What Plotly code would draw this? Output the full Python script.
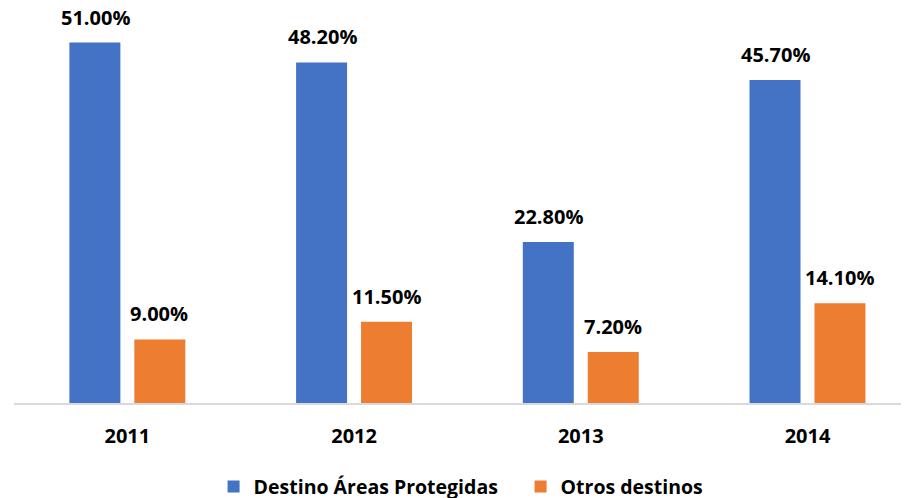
import plotly.graph_objects as go

years = ["2011", "2012", "2013", "2014"]
areas_protegidas = [51.0, 48.2, 22.8, 45.7]
otros_destinos = [9.0, 11.5, 7.2, 14.1]

BLUE = "#4472C4"
ORANGE = "#ED7D31"
FONT = "Open Sans"

fig = go.Figure()

fig.add_trace(go.Bar(
    x=years, y=areas_protegidas,
    name="Destino Áreas Protegidas",
    marker=dict(color=BLUE, line=dict(width=0)),
))
fig.add_trace(go.Bar(
    x=years, y=otros_destinos,
    name="Otros destinos",
    marker=dict(color=ORANGE, line=dict(width=0)),
))

# value labels above each bar
for series, shift in [(areas_protegidas, -32), (otros_destinos, 32)]:
    for i, v in enumerate(series):
        fig.add_annotation(
            x=i, y=v, xref="x", yref="y",
            text=f"<b>{v:.2f}%</b>",
            xshift=shift, yshift=10, yanchor="bottom",
            showarrow=False,
            font=dict(family=FONT, size=20, color="#000000"),
        )

fig.update_layout(
    width=909, height=498,
    margin=dict(l=6, r=0, t=0, b=103, autoexpand=False),
    plot_bgcolor="white",
    paper_bgcolor="white",
    barmode="group",
    bargap=0.427,
    bargroupgap=0.215,
    font=dict(family=FONT, color="#000000"),
    showlegend=True,
    legend=dict(
        orientation="h",
        x=0.221, xanchor="left",
        y=-0.212, yanchor="middle",
        font=dict(family=FONT, size=19.5, color="#000000", weight="bold"),
        entrywidth=262, entrywidthmode="pixels",
        itemsizing="constant",
    ),
    xaxis=dict(
        type="category",
        range=[-0.5, 3.483],
        showline=True, linecolor="#D9D9D9", linewidth=2,
        showgrid=False, zeroline=False,
        ticks="",
        tickfont=dict(family=FONT, size=20, color="#000000", weight="bold"),
        ticklabelstandoff=14,
    ),
    yaxis=dict(
        range=[0, 55.9],
        showticklabels=False, showline=False,
        showgrid=False, zeroline=False,
    ),
)

fig.write_html("out.html")
